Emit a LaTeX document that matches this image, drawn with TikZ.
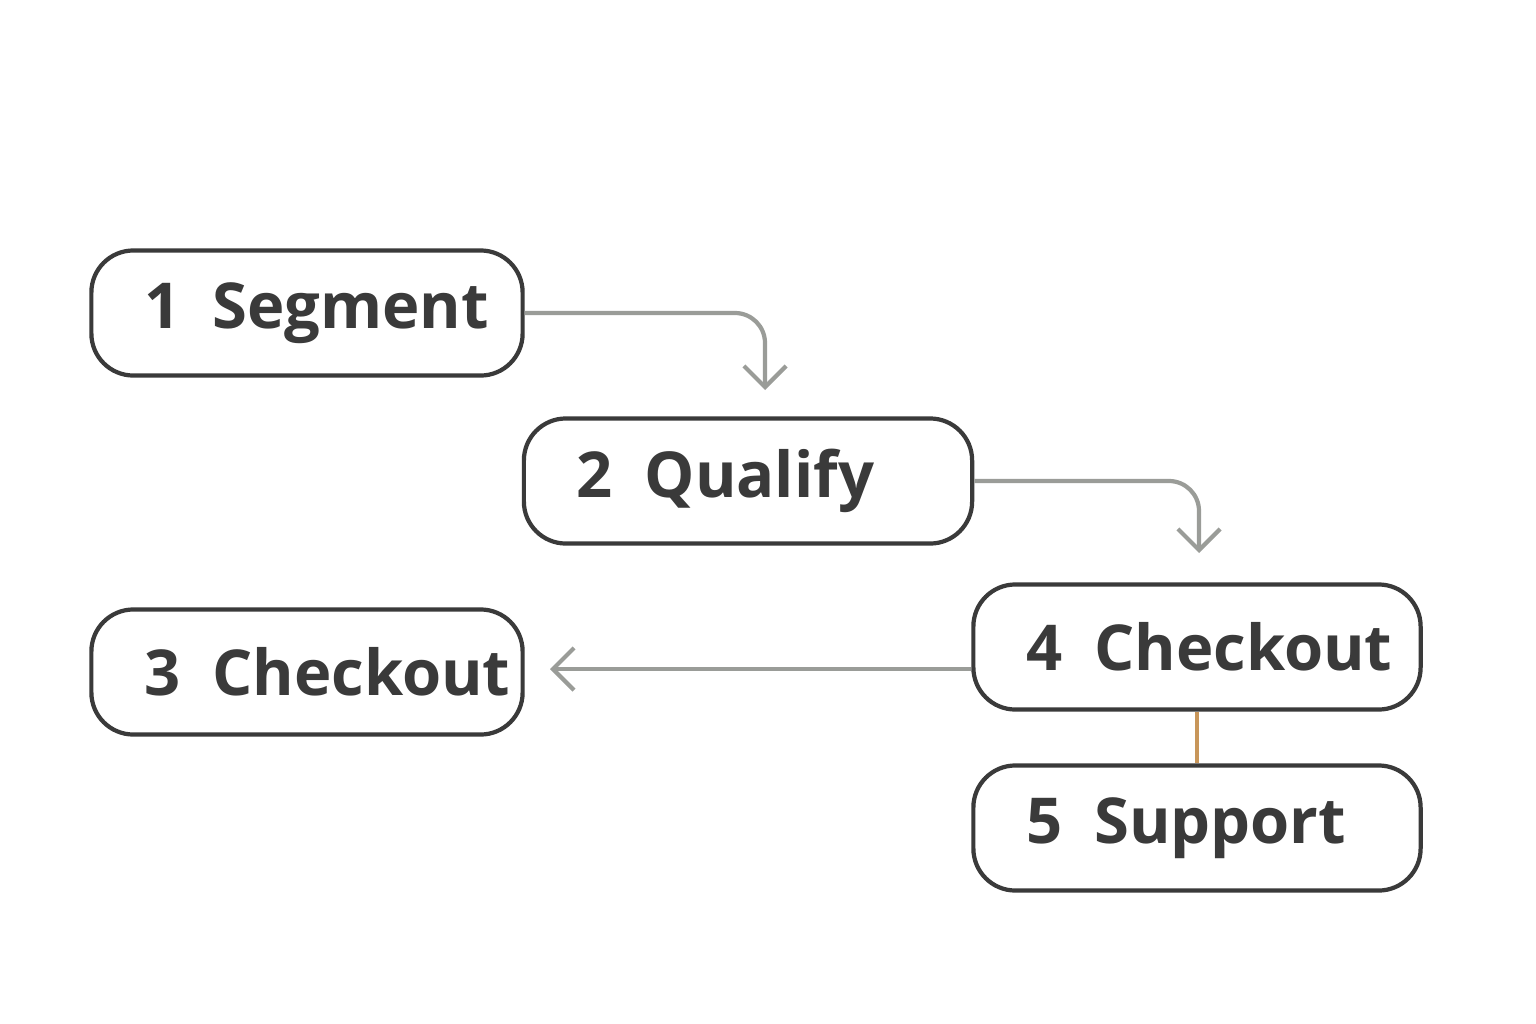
\documentclass[tikz,border=0pt]{standalone}
\usepackage{fontspec}
\setmainfont{Open Sans}
\usetikzlibrary{arrows.meta}

\definecolor{boxline}{HTML}{3A3A3A}
\definecolor{flow}{HTML}{9A9C98}
\definecolor{link}{HTML}{C8965A}

\begin{document}
\begin{tikzpicture}[x=0.01cm,y=-0.01cm,
    stage/.style={draw=boxline, line width=1.2pt, rounded corners=0.42cm,
      minimum height=1.25cm, text width=#1, inner xsep=0.53cm,
      font=\fontsize{18}{20}\selectfont\bfseries, text=boxline, align=left},
    flowarrow/.style={draw=flow, line width=1.2pt, rounded corners=0.3cm,
      -{Straight Barb[length=6pt,width=12pt,line width=1.2pt]}}]

    % background / bounding box
    \useasboundingbox[fill=white] (0,0) rectangle (1536,1024);

    % stages
    \node[stage=3.25cm] (seg) at (307,313) {1\enspace Segment};
    \node[stage=3.42cm] (qual) at (748,481) {2\enspace Qualify};
    \node[stage=3.25cm] (chkl) at (307,672) {3\enspace Checkout};
    \node[stage=3.41cm] (chkr) at (1197,647) {4\enspace Checkout};
    \node[stage=3.41cm] (sup) at (1197,828) {5\enspace Support};

    % connectors
    \coordinate (t1) at (765,390);
    \coordinate (t2) at (1199,553);
    \coordinate (t3) at (550,669);
    \draw[flowarrow] (seg.east |- 0,313) -| (t1);
    \draw[flowarrow] (qual.east |- 0,481) -| (t2);
    \draw[flowarrow] (chkr.west |- 0,669) -- (t3);
    \draw[link, line width=1.2pt] (chkr.south) -- (sup.north);

\end{tikzpicture}
\end{document}
